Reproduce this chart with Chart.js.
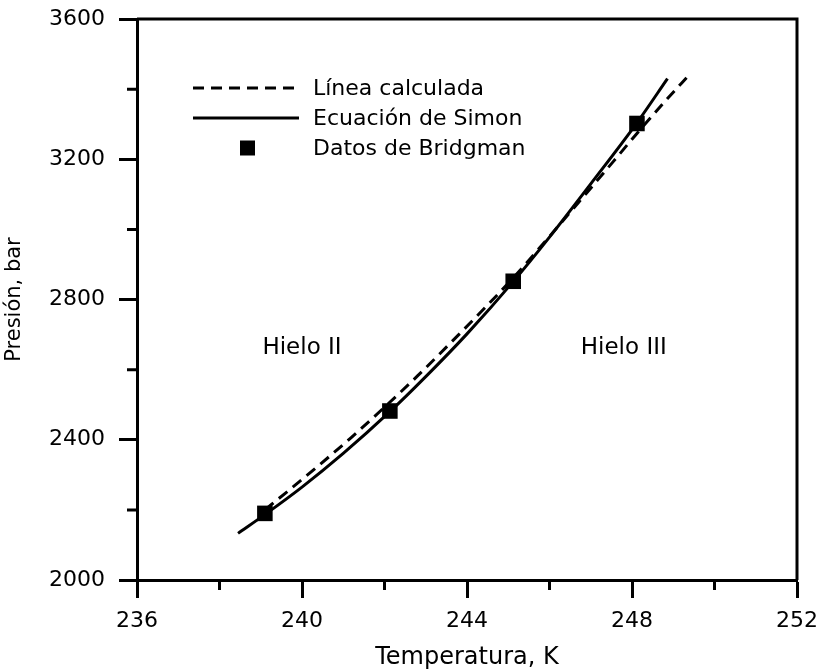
<!DOCTYPE html>
<html>
<head>
<meta charset="utf-8">
<script src="https://cdn.jsdelivr.net/npm/chart.js@4.4.1/dist/chart.umd.min.js"></script>
<style>
  html, body { margin: 0; padding: 0; background: #fff; }
  #wrap { width: 822px; height: 672px; position: relative; }
</style>
</head>
<body>
<div id="wrap"><canvas id="simonChart"></canvas></div>
<script>
// Values
const tempCalc = [239.1, 239.6, 240.4, 241.2, 242.0, 242.8, 243.6, 244.4, 245.2, 246.0, 246.9, 247.55, 248.13, 248.8, 249.41];
const presCalc = [2200, 2248, 2326, 2407, 2493, 2582, 2676, 2772, 2872, 2980, 3104, 3194, 3275, 3365, 3444];

const tempSimon = [238.45, 239.14, 240.0, 241.0, 242.13, 243.0, 244.0, 245.12, 246.0, 247.0, 248.12, 248.86];
const presSimon = [2133, 2190, 2265, 2361, 2480, 2580, 2702, 2851, 2978, 3130, 3304, 3430];

const tempBridgman = [239.1, 242.13, 245.12, 248.12];
const presBridgman = [2190, 2482, 2852, 3302];

const xTicks = [236, 240, 244, 248, 252];
const xMinor = [238, 242, 246, 250];
const yTicks = [2000, 2400, 2800, 3200, 3600];
const yMinor = [2200, 2600, 3000, 3400];

const seriesNames = ["Línea calculada", "Ecuación de Simon", "Datos de Bridgman"];
const regionNames = ["Hielo II", "Hielo III"];
const regionTemps = [240.0, 247.8];
const regionPres = [2662, 2662];

const FONT = "'DejaVu Sans', 'Liberation Sans', Arial, sans-serif";

function toPoints(xs, ys) {
  return xs.map((v, i) => ({ x: v, y: ys[i] }));
}

// box frame, minor ticks, legend and region labels
const extras = {
  id: "extras",
  afterDraw(chart) {
    const { ctx, chartArea: a, scales } = chart;
    const x = scales.x;
    const y = scales.y;
    ctx.save();
    ctx.strokeStyle = "#000";
    ctx.lineWidth = 3;
    ctx.setLineDash([]);
    ctx.beginPath();
    ctx.moveTo(a.left, a.top);
    ctx.lineTo(a.right, a.top);
    ctx.lineTo(a.right, a.bottom);
    ctx.stroke();

    ctx.beginPath();
    xMinor.forEach((v) => {
      const px = x.getPixelForValue(v);
      ctx.moveTo(px, a.bottom);
      ctx.lineTo(px, a.bottom + 10);
    });
    yMinor.forEach((v) => {
      const py = y.getPixelForValue(v);
      ctx.moveTo(a.left - 10, py);
      ctx.lineTo(a.left, py);
    });
    ctx.stroke();

    // legend
    const lx = a.left + 56;
    const ly = a.top + 69;
    ctx.font = "22px " + FONT;
    ctx.fillStyle = "#000";
    ctx.textBaseline = "middle";
    ctx.textAlign = "left";
    chart.data.datasets.forEach((ds, i) => {
      const rowY = ly + i * 30;
      if (ds.showLine === false) {
        ctx.fillRect(lx + 47, rowY - 7.5, 15, 15);
      } else {
        ctx.lineWidth = ds.borderWidth;
        ctx.setLineDash(ds.borderDash || []);
        ctx.beginPath();
        ctx.moveTo(lx, rowY);
        ctx.lineTo(lx + 106, rowY);
        ctx.stroke();
        ctx.setLineDash([]);
      }
      ctx.fillText(ds.label, lx + 120, rowY + 1);
    });

    ctx.font = "23px " + FONT;
    ctx.textAlign = "center";
    regionNames.forEach((name, i) => {
      ctx.fillText(name, x.getPixelForValue(regionTemps[i]), y.getPixelForValue(regionPres[i]));
    });
    ctx.restore();
  },
};

document.addEventListener("DOMContentLoaded", function () {
  const ctx = document.getElementById("simonChart").getContext("2d");
  new Chart(ctx, {
    type: "line",
    data: {
      datasets: [
        {
          label: seriesNames[0],
          data: toPoints(tempCalc, presCalc),
          borderColor: "#000",
          borderWidth: 3,
          borderDash: [11, 7],
          pointRadius: 0,
          cubicInterpolationMode: "monotone",
          fill: false,
        },
        {
          label: seriesNames[1],
          data: toPoints(tempSimon, presSimon),
          borderColor: "#000",
          borderWidth: 3,
          pointRadius: 0,
          cubicInterpolationMode: "monotone",
          fill: false,
        },
        {
          label: seriesNames[2],
          data: toPoints(tempBridgman, presBridgman),
          showLine: false,
          pointStyle: "rect",
          pointRadius: 11,
          backgroundColor: "#000",
          borderColor: "#000",
          borderWidth: 0,
        },
      ],
    },
    options: {
      responsive: true,
      maintainAspectRatio: false,
      animation: false,
      layout: { padding: { top: 19, right: 25, left: 0, bottom: 0 } },
      plugins: {
        legend: { display: false },
        tooltip: { enabled: false },
      },
      scales: {
        x: {
          type: "linear",
          min: 236,
          max: 252,
          afterBuildTicks: (s) => { s.ticks = xTicks.map((v) => ({ value: v })); },
          afterFit: (s) => { s.height = 92; s.paddingLeft = 0; s.paddingRight = 0; },
          grid: { drawOnChartArea: false, drawTicks: true, tickLength: 18, tickWidth: 3, tickColor: "#000" },
          border: { display: true, color: "#000", width: 3 },
          ticks: { color: "#000", font: { family: FONT, size: 22 }, padding: 10, maxRotation: 0, callback: (v) => String(v) },
          title: { display: true, text: "Temperatura, K", color: "#000", font: { family: FONT, size: 24 }, padding: { top: 2, bottom: 0 } },
        },
        y: {
          type: "linear",
          min: 2000,
          max: 3600,
          afterBuildTicks: (s) => { s.ticks = yTicks.map((v) => ({ value: v })); },
          afterFit: (s) => { s.width = 137; s.paddingTop = 0; s.paddingBottom = 0; },
          grid: { drawOnChartArea: false, drawTicks: true, tickLength: 18, tickWidth: 3, tickColor: "#000" },
          border: { display: true, color: "#000", width: 3 },
          ticks: { color: "#000", font: { family: FONT, size: 22 }, padding: 14, callback: (v) => String(v) },
          title: { display: true, text: "Presión, bar", color: "#000", font: { family: FONT, size: 21 }, padding: { top: 2, bottom: 2 } },
        },
      },
    },
    plugins: [extras],
  });
});
</script>
</body>
</html>
